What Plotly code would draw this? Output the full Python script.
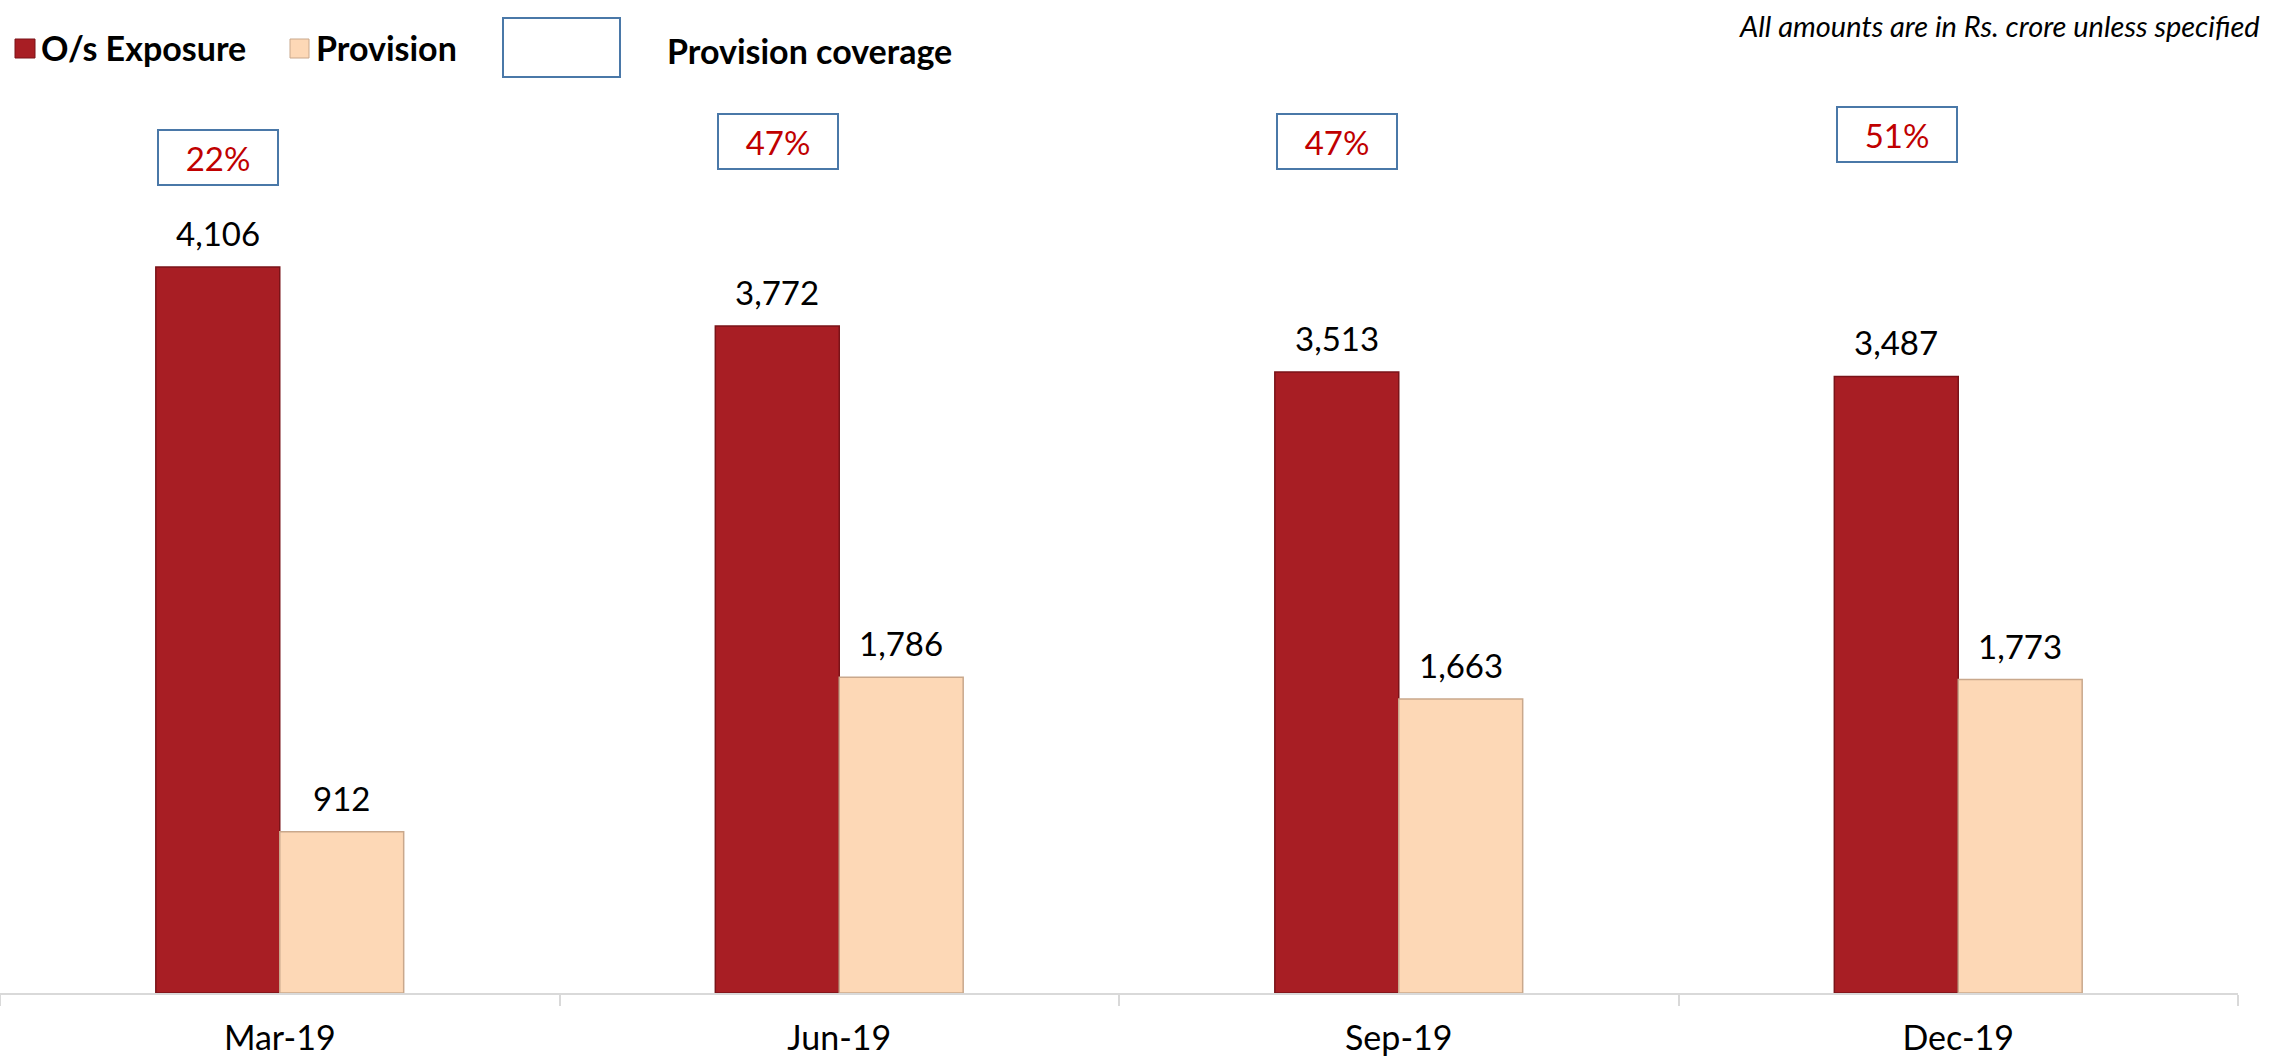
import plotly.graph_objects as go

# ---- data ----
categories = ["Mar-19", "Jun-19", "Sep-19", "Dec-19"]
exposure = [4106, 3772, 3513, 3487]
provision = [912, 1786, 1663, 1773]
coverage = [round(100 * p / e) for p, e in zip(provision, exposure)]

# ---- layout constants (pixels) ----
W, H = 2287, 1060
L, R, T, B = 0, 49, 60, 67
PW, PH = W - L - R, H - T - B
Y_MAX = 5277

RED = "#A81E24"
RED_EDGE = "#7A1318"
PEACH = "#FDD8B6"
PEACH_EDGE = "#C9A88C"
BOX_BLUE = "#4A78A8"
FONT = "Lato"


def px_x(px):
    return (px - L) / PW


def px_y(py):
    return (H - B - py) / PH


fig = go.Figure()
fig.add_trace(go.Bar(x=categories, y=exposure, name="O/s Exposure",
                     marker=dict(color=RED, line=dict(color=RED_EDGE, width=1.5)),
                     showlegend=False, hoverinfo="x+y"))
fig.add_trace(go.Bar(x=categories, y=provision, name="Provision",
                     marker=dict(color=PEACH, line=dict(color=PEACH_EDGE, width=1.5)),
                     showlegend=False, hoverinfo="x+y"))

gap = 0.557
half = (1 - gap) / 4
annotations = []
shapes = []
# value labels
for i, c in enumerate(categories):
    for val, off in ((exposure[i], -half), (provision[i], half)):
        annotations.append(dict(x=i + off, y=val, xref="x", yref="y",
                                text=f"{val:,}", showarrow=False,
                                yanchor="bottom", yshift=12,
                                font=dict(family=FONT, size=33, color="black")))

# coverage boxes
box_center_px = [157, 141, 141, 134]
for i, c in enumerate(categories):
    annotations.append(dict(x=i - 0.11, y=px_y(box_center_px[i]), xref="x", yref="paper",
                            text=f"{coverage[i]}%", showarrow=False,
                            xanchor="center", yanchor="middle",
                            width=118, height=53, borderpad=0, borderwidth=2,
                            bordercolor=BOX_BLUE, bgcolor="white",
                            font=dict(family=FONT, size=33, color="#C00000")))

# legend (manual)
shapes.append(dict(type="rect", xref="paper", yref="paper",
                   x0=px_x(15), x1=px_x(35), y0=px_y(58), y1=px_y(39),
                   fillcolor=RED, line=dict(color=RED_EDGE, width=1)))
annotations.append(dict(x=px_x(39), y=px_y(48), xref="paper", yref="paper",
                        text="<b>O/s Exposure</b>", showarrow=False,
                        xanchor="left", yanchor="middle",
                        font=dict(family=FONT, size=34, color="black")))
shapes.append(dict(type="rect", xref="paper", yref="paper",
                   x0=px_x(290), x1=px_x(309), y0=px_y(58), y1=px_y(39),
                   fillcolor=PEACH, line=dict(color=PEACH_EDGE, width=1)))
annotations.append(dict(x=px_x(314), y=px_y(48), xref="paper", yref="paper",
                        text="<b>Provision</b>", showarrow=False,
                        xanchor="left", yanchor="middle",
                        font=dict(family=FONT, size=34, color="black")))
shapes.append(dict(type="rect", xref="paper", yref="paper",
                   x0=px_x(503), x1=px_x(620), y0=px_y(77), y1=px_y(18),
                   fillcolor="white", line=dict(color=BOX_BLUE, width=2)))
annotations.append(dict(x=px_x(665), y=px_y(50), xref="paper", yref="paper",
                        text="<b>Provision coverage</b>", showarrow=False,
                        xanchor="left", yanchor="middle",
                        font=dict(family=FONT, size=34, color="black")))
# note
annotations.append(dict(x=px_x(2262), y=px_y(25), xref="paper", yref="paper",
                        text="<i>All amounts are in Rs. crore unless specified</i>",
                        showarrow=False, xanchor="right", yanchor="middle",
                        font=dict(family=FONT, size=29, color="black")))

fig.update_layout(
    width=W, height=H,
    margin=dict(l=L, r=R, t=T, b=B, autoexpand=False),
    paper_bgcolor="white", plot_bgcolor="white",
    barmode="group", bargap=gap, bargroupgap=0,
    annotations=annotations, shapes=shapes,
    showlegend=False,
    xaxis=dict(showline=True, linecolor="#D9D9D9", linewidth=2,
               ticks="outside", tickson="boundaries", ticklen=11,
               tickcolor="#D9D9D9", tickwidth=2, showgrid=False,
               ticklabelstandoff=14, automargin=False,
               tickfont=dict(family=FONT, size=34, color="black")),
    yaxis=dict(range=[0, Y_MAX], visible=False, showgrid=False, zeroline=False,
               automargin=False),
)

fig.write_html("out.html",
               config={"displayModeBar": False},
               post_script="document.body.style.margin='0';"
                           "document.body.style.overflow='hidden';")
